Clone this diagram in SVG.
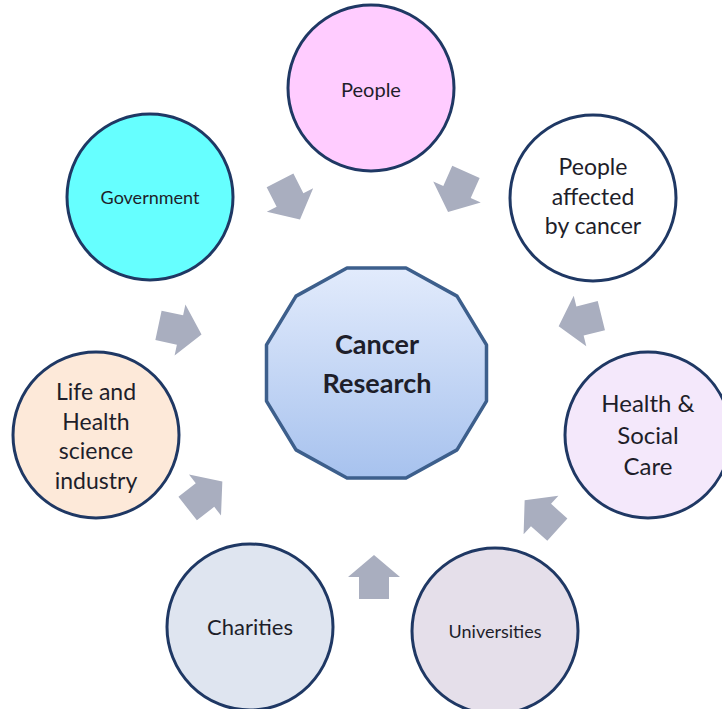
<svg xmlns="http://www.w3.org/2000/svg" width="722" height="709" viewBox="0 0 722 709">
<defs>
<linearGradient id="cg" x1="0" y1="0" x2="0" y2="1">
<stop offset="0" stop-color="#e2ebfc"/>
<stop offset="1" stop-color="#a7c2ee"/>
</linearGradient>
<path id="arr" d="M-22,-15 L0,-15 L0,-26 L22,0 L0,26 L0,15 L-22,15 Z"/>
</defs>
<style>
.c{stroke:#1f3864;stroke-width:3}
.t{font-family:Lato,"Open Sans","Liberation Sans",sans-serif;fill:#1e1e2a;text-anchor:middle}
.a{fill:#a9aebf}
</style>
<rect width="722" height="709" fill="#ffffff"/>
<g id="connectors">
<use href="#arr" class="a" transform="translate(290,200) rotate(63)"/>
<use href="#arr" class="a" transform="translate(457,192) rotate(114)"/>
<use href="#arr" class="a" transform="translate(180,330) rotate(12)"/>
<use href="#arr" class="a" transform="translate(205,495) rotate(-38)"/>
<use href="#arr" class="a" transform="translate(374,577) rotate(-90)"/>
<use href="#arr" class="a" transform="translate(541,515) rotate(-138)"/>
<use href="#arr" class="a" transform="translate(580,321) rotate(166)"/>
</g>
<g id="center">
<polygon points="486.5,401.1 457,449.9 406,478 347,478 296,449.9 266.5,401.1 266.5,344.9 296,296.1 347,268 406,268 457,296.1 486.5,344.9" fill="url(#cg)" stroke="#3d5f8c" stroke-width="3.5" stroke-linejoin="round"/>
<text class="t" x="377" y="354" font-size="27" font-weight="bold" fill="#111">Cancer</text>
<text class="t" x="377" y="393" font-size="27" font-weight="bold" fill="#111">Research</text>
</g>
<g id="people">
<circle class="c" cx="371" cy="88" r="83" fill="#ffccff"/>
<text class="t" x="371" y="97" font-size="20">People</text>
</g>
<g id="government">
<circle class="c" cx="150" cy="197" r="83" fill="#66ffff"/>
<text class="t" x="150" y="204" font-size="18">Government</text>
</g>
<g id="affected">
<circle class="c" cx="593" cy="198" r="83" fill="#ffffff"/>
<text class="t" x="593" y="175" font-size="23">People</text>
<text class="t" x="593" y="205" font-size="23">affected</text>
<text class="t" x="593" y="234" font-size="23">by cancer</text>
</g>
<g id="health">
<circle class="c" cx="648" cy="435" r="83" fill="#f4e8fb"/>
<text class="t" x="648" y="412" font-size="24">Health &amp;</text>
<text class="t" x="648" y="444" font-size="24">Social</text>
<text class="t" x="648" y="475" font-size="24">Care</text>
</g>
<g id="universities">
<circle class="c" cx="495" cy="631" r="83" fill="#e5dfea"/>
<text class="t" x="495" y="638" font-size="18">Universities</text>
</g>
<g id="charities">
<circle class="c" cx="250" cy="627" r="83" fill="#dfe5f0"/>
<text class="t" x="250" y="635" font-size="22">Charities</text>
</g>
<g id="industry">
<circle class="c" cx="96" cy="435" r="83" fill="#fde9d9"/>
<text class="t" x="96" y="400" font-size="23">Life and</text>
<text class="t" x="96" y="430" font-size="23">Health</text>
<text class="t" x="96" y="459" font-size="23">science</text>
<text class="t" x="96" y="489" font-size="23">industry</text>
</g>
</svg>
